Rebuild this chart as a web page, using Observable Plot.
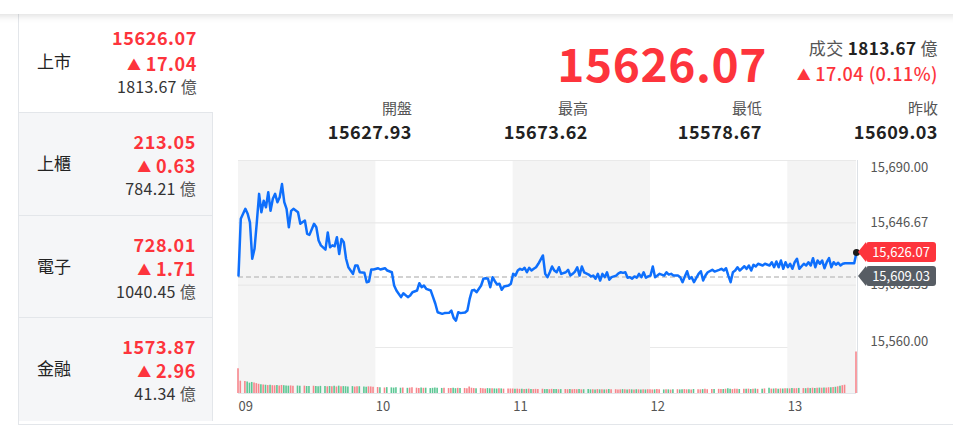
<!DOCTYPE html>
<html><head><meta charset="utf-8">
<script src="https://cdn.jsdelivr.net/npm/d3@7"></script>
<script src="https://cdn.jsdelivr.net/npm/@observablehq/plot@0.6"></script>
<style>
body{margin:0;width:953px;height:438px;overflow:hidden;background:#fff;position:relative;font-family:"Noto Sans CJK TC","Noto Sans",sans-serif;color:#222;}
#topbar{position:absolute;left:-10px;top:-30px;width:973px;height:44px;background:#fff;box-shadow:0 1px 8px rgba(0,0,0,.16);z-index:5;}
#frame{position:absolute;left:18px;top:14px;width:935px;height:411px;border-left:1px solid #e3e6ea;border-bottom:1px solid #e3e6ea;box-sizing:border-box;}
.row{position:absolute;left:19px;width:194px;box-sizing:border-box;border-bottom:1px solid #e3e6ea;}
.row.g{background:#f5f6f8;border-right:1px solid #e3e6ea;}
.lbl{position:absolute;left:18px;font-size:17px;line-height:20px;color:#222;}
.v{position:absolute;right:16px;white-space:nowrap;text-align:right;line-height:20px;}
.red{color:#fd343c;}
.b{font-weight:700;}
.tri{font-size:14px;margin-right:4px;position:relative;top:-1px;}
.hd{position:absolute;white-space:nowrap;text-align:right;line-height:24px;}
.tag{position:absolute;left:858px;width:78px;height:20px;}
.tag .arr{position:absolute;left:0;top:0;width:0;height:0;border-top:10px solid transparent;border-bottom:10px solid transparent;}
.tag .body{position:absolute;left:8px;top:0;width:70px;height:20px;border-radius:3px;color:#fff;font-size:13px;line-height:20px;text-align:center;}
</style></head>
<body>
<div id="topbar"></div>
<div id="frame"></div>
<div id="panel"></div>
<div id="header"></div>
<div id="price" style="position:absolute;left:230px;top:150px;"></div>
<div id="vol" style="position:absolute;left:230px;top:347px;"></div>
<div id="tags"></div>
<script>
// ---- left board summary ----
const boardNames = ["上市","上櫃","電子","金融"];
const boardIndex = ["15626.07","213.05","728.01","1573.87"];
const boardChange = ["17.04","0.63","1.71","2.96"];
const boardTurnover = ["1813.67","784.21","1040.45","41.34"];
// ---- header ----
const lastPrice = 15626.07;
const changeAbs = "17.04";
const changePct = "0.11%";
const turnover = "1813.67";
const statLabels = ["開盤","最高","最低","昨收"];
const statValues = ["15627.93","15673.62","15578.67","15609.03"];
const prevClose = 15609.03;
// ---- axes ----
const yTicks = [15690, 15646.67, 15603.33, 15560];
const hourTicks = ["09:00","10:00","11:00","12:00","13:00"];
const sessionStart = "09:00", sessionEnd = "13:30";
const bandStarts = ["09:00","11:00","13:00"];
const bandEnds = ["10:00","12:00","13:30"];
// ---- intraday series ----
const times = [
"09:00","09:01","09:03","09:04","09:05","09:06","09:07","09:08","09:09","09:10","09:11","09:12","09:13","09:14","09:15","09:16","09:17","09:18","09:19","09:20","09:21","09:22","09:23","09:24","09:26","09:27","09:29","09:30","09:31","09:33","09:34","09:35","09:36","09:38","09:39","09:40","09:41","09:42","09:43","09:44","09:45","09:46","09:47","09:48","09:50","09:51","09:52","09:53","09:55","09:56","09:57","09:58","09:59",
"10:01","10:02","10:04","10:05","10:07","10:08","10:09","10:11","10:12","10:14","10:15","10:16","10:18","10:19","10:20","10:21","10:22","10:24","10:25","10:26","10:27","10:29","10:30","10:32","10:33","10:34","10:35","10:36","10:37","10:39","10:40","10:41","10:42","10:43","10:44","10:46","10:47","10:48","10:49","10:50","10:51","10:52","10:53","10:54","10:55","10:56","10:58","10:59",
"11:00","11:01","11:02","11:03","11:04","11:05","11:06","11:07","11:08","11:09","11:10","11:11","11:13","11:14","11:15","11:16","11:17","11:18","11:19","11:20","11:21","11:23","11:24","11:25","11:26","11:27","11:28","11:29","11:30","11:31","11:33","11:34","11:35","11:36","11:37","11:38","11:39","11:40","11:41","11:42","11:43","11:45","11:46","11:47","11:48","11:49","11:50","11:51","11:52","11:53","11:54","11:55","11:56","11:57","11:58","11:59",
"12:00","12:01","12:02","12:03","12:04","12:06","12:07","12:08","12:09","12:10","12:12","12:13","12:14","12:15","12:16","12:17","12:18","12:19","12:21","12:22","12:23","12:24","12:25","12:27","12:28","12:30","12:31","12:32","12:33","12:34","12:35","12:36","12:37","12:38","12:39","12:41","12:42","12:43","12:44","12:45","12:46","12:47","12:49","12:50","12:52","12:53","12:54","12:55","12:56","12:57","12:58","12:59",
"13:00","13:01","13:02","13:03","13:04","13:05","13:07","13:08","13:09","13:10","13:11","13:12","13:13","13:14","13:15","13:16","13:17","13:18","13:19","13:20","13:21","13:22","13:23","13:24","13:25","13:29","13:30"];
const prices = [
15610.0,15649.5,15656.4,15653.0,15647.0,15621.7,15628.6,15647.0,15666.8,15654.0,15662.0,15657.5,15668.0,15655.0,15663.4,15666.8,15661.0,15664.5,15673.6,15661.0,15656.4,15643.6,15655.0,15656.4,15654.0,15646.0,15648.3,15639.0,15638.3,15646.0,15643.6,15634.4,15631.0,15628.0,15640.0,15629.7,15631.0,15630.4,15636.7,15625.0,15635.5,15633.2,15621.7,15615.8,15611.2,15617.0,15617.0,15612.3,15612.0,15605.4,15605.9,15614.2,15614.2,
15615.1,15614.2,15615.1,15613.5,15612.3,15603.1,15599.6,15595.0,15597.7,15595.0,15596.1,15598.4,15599.6,15604.7,15601.9,15603.1,15600.8,15599.6,15595.0,15590.4,15584.5,15583.4,15583.9,15584.1,15585.7,15580.6,15578.67,15584.5,15583.9,15584.3,15585.7,15593.8,15599.6,15600.1,15598.4,15603.1,15607.8,15608.2,15607.8,15601.9,15608.9,15606.1,15603.8,15604.3,15600.1,15602.4,15603.1,15604.3,
15611.2,15610.0,15613.5,15614.7,15614.0,15615.4,15612.3,15615.4,15613.5,15614.7,15615.8,15618.2,15624.0,15611.2,15608.9,15612.3,15616.3,15613.5,15612.3,15615.8,15611.2,15612.3,15614.0,15610.0,15611.2,15612.8,15615.8,15610.0,15616.3,15612.3,15610.7,15609.4,15610.0,15607.8,15611.2,15606.6,15611.2,15608.9,15612.3,15607.1,15608.9,15610.0,15611.6,15612.3,15611.9,15612.3,15608.5,15608.9,15607.8,15609.4,15608.5,15611.2,15608.9,15612.3,15608.5,15609.4,
15610.0,15616.3,15608.9,15610.0,15611.2,15610.0,15612.3,15610.7,15611.2,15610.0,15610.0,15608.9,15605.4,15609.4,15613.0,15607.8,15608.9,15605.4,15611.2,15613.0,15606.6,15610.0,15612.3,15614.0,15612.8,15614.0,15614.7,15613.5,15615.1,15610.0,15605.4,15612.3,15613.5,15615.8,15613.5,15616.5,15614.7,15617.0,15613.5,15617.5,15616.3,15618.2,15617.0,15618.2,15617.0,15619.3,15615.8,15619.8,15615.8,15620.5,15614.7,15619.3,
15615.8,15618.2,15614.7,15619.3,15621.7,15614.7,15618.2,15617.0,15619.3,15617.0,15622.1,15615.8,15620.5,15618.2,15620.5,15615.1,15619.3,15622.1,15615.8,15619.3,15617.5,15618.9,15617.0,15618.2,15618.6,15618.6,15626.07];
// turnover per minute, 億
const volumes = [
21.5,10.7,10.4,10.1,9.0,9.6,9.1,8.6,8.0,7.6,7.4,7.2,6.9,7.1,6.8,6.7,6.9,6.6,7.0,6.8,6.5,6.4,6.6,6.3,6.5,6.2,6.4,6.1,6.0,6.3,6.1,5.9,6.2,6.0,5.8,6.1,5.9,6.2,5.7,6.4,5.8,6.0,5.9,5.7,6.0,5.6,5.8,5.9,5.6,5.5,5.8,5.7,5.4,
5.2,5.0,4.8,5.1,4.9,4.7,5.0,4.6,4.8,4.5,4.7,4.9,4.6,4.4,4.7,4.5,4.6,4.3,4.5,4.8,4.6,4.4,4.5,4.3,4.4,4.6,4.2,4.5,4.3,4.4,4.2,5.6,4.6,4.3,4.1,4.4,4.2,4.0,4.3,4.1,4.2,4.0,3.9,4.1,4.0,3.8,4.0,3.9,
3.9,3.7,3.8,3.6,3.7,3.5,3.6,3.8,3.5,3.4,3.6,3.5,3.7,3.4,3.5,3.3,3.6,3.4,3.5,3.3,3.4,3.5,3.3,3.4,3.2,3.5,3.3,3.4,3.2,3.3,3.4,3.2,3.3,3.1,3.4,3.2,3.3,3.1,3.2,3.4,3.2,3.3,3.1,3.2,3.4,3.2,3.1,3.3,3.2,3.1,3.3,3.2,3.0,3.2,3.1,3.3,
3.3,3.1,3.2,3.4,3.2,3.1,3.3,3.2,3.0,3.2,3.3,3.1,3.2,3.4,3.2,3.3,3.1,3.5,3.3,3.2,3.4,3.6,3.3,3.4,3.5,3.6,3.4,3.5,3.7,4.2,3.6,3.4,3.8,3.6,3.5,3.7,3.6,3.8,3.5,3.7,3.9,3.6,3.8,4.0,4.6,3.8,3.9,4.1,3.8,4.0,3.9,4.2,
4.1,4.0,4.3,4.1,4.2,4.4,4.3,4.2,4.5,4.3,4.6,4.4,4.5,4.7,4.6,4.8,4.7,5.0,4.9,5.2,5.4,5.8,6.2,6.8,7.2,0,36.0];
const volMax = 40;

const RED = "#fd343c";
const FONT = '"Noto Sans CJK TC","Noto Sans",sans-serif';

// ---- build left panel ----
const rowTop = [14,113,216,318], rowH = [99,103,102,103];
const panel = document.getElementById("panel");
boardNames.forEach((name,i)=>{
  const r = document.createElement("div");
  r.className = "row" + (i>0 ? " g" : "");
  r.style.top = rowTop[i]+"px"; r.style.height = rowH[i]+"px";
  if (i===3) r.style.borderBottom = "none";
  const c = (i===0 ? 49 : rowH[i]/2 + 0.5);
  const t1 = (i===0 ? c-36 : c-34);
  r.innerHTML =
    `<div class="lbl" style="top:${c-12}px">${name}</div>`+
    `<div class="v red b" style="top:${t1}px;font-size:18px;letter-spacing:0.6px">${boardIndex[i]}</div>`+
    `<div class="v red b" style="top:${c-10}px;font-size:18px;letter-spacing:0.6px"><span class="tri">▲</span>${boardChange[i]}</div>`+
    `<div class="v" style="top:${c+13}px;font-size:16px;letter-spacing:0.3px;color:#333">${boardTurnover[i]} <span style="color:#555">億</span></div>`;
  panel.appendChild(r);
});

// ---- header ----
const header = document.getElementById("header");
let h = `<div class="hd red b" style="right:186px;top:34px;font-size:46px;line-height:56px;letter-spacing:0.6px">${d3.format(".2f")(lastPrice)}</div>`;
h += `<div class="hd" style="right:15px;top:36px;font-size:17px;letter-spacing:0.4px"><span style="color:#555">成交</span> <b style="color:#222">${turnover}</b> <span style="color:#555">億</span></div>`;
h += `<div class="hd red" style="right:15px;top:61px;font-size:18px;font-weight:500;letter-spacing:0.5px"><span class="tri">▲</span>${changeAbs} (${changePct})</div>`;
const statRight = [412,588,762,938];
statLabels.forEach((l,i)=>{
  h += `<div class="hd" style="right:${953-statRight[i]}px;top:96px;font-size:15px;color:#555">${l}</div>`;
  h += `<div class="hd b" style="right:${953-statRight[i]}px;top:119px;font-size:18px;letter-spacing:0.5px;color:#222">${statValues[i]}</div>`;
});
header.innerHTML = h;

// ---- charts ----
const parseT = s => { const [hh,mm] = s.split(":").map(Number); return new Date(Date.UTC(2023,7,15,hh,mm)); };
const data = times.map((t,i)=>({t:parseT(t), p:prices[i], v:volumes[i], up: i===0 ? true : prices[i] >= prices[i-1]}));
const xDomain = [parseT(sessionStart), parseT(sessionEnd)];
const bands = bandStarts.map((s,i)=>({x1:parseT(s), x2:parseT(bandEnds[i])}));
const yMin = yTicks[yTicks.length-1], yMax = yTicks[0];
const fmt = d3.format(",.2f");
const last = data[data.length-1];
const yAxisOpts = {anchor: "right", tickSize: 0, tickPadding: 14, textAnchor: "start", tickFormat: fmt, fill: "#555", label: null};

const pricePlot = Plot.plot({
  width: 723, height: 198, marginLeft: 8, marginRight: 97, marginTop: 10, marginBottom: 1,
  x: {type: "utc", domain: xDomain, axis: null},
  y: {domain: [yMin, yMax], axis: null},
  style: {fontFamily: FONT, fontSize: "13px", color: "#555", overflow: "visible", background: "transparent"},
  marks: [
    Plot.rect(bands, {x1: "x1", x2: "x2", y1: yMin, y2: yMax, fill: "#f4f4f4"}),
    Plot.ruleY(yTicks, {stroke: "#e9e9e9", strokeWidth: 1.2}),
    Plot.ruleY([prevClose], {stroke: "#c4c4c4", strokeWidth: 1.5, strokeDasharray: "5,3"}),
    Plot.ruleX([xDomain[1]], {stroke: "#dde1e6", dx: 1}),
    Plot.line(data, {x: "t", y: "p", stroke: "#0e6ffc", strokeWidth: 2.5, strokeLinejoin: "round"}),
    Plot.dot([last], {x: "t", y: "p", r: 3.5, fill: "#1b1b1b"}),
    Plot.axisY([yTicks[0]], {...yAxisOpts, dy: 7}),
    Plot.axisY(yTicks.slice(1,3), yAxisOpts),
    Plot.axisY([yMin], {...yAxisOpts, dy: -6})
  ]
});
document.getElementById("price").appendChild(pricePlot);

const volPlot = Plot.plot({
  width: 723, height: 73, marginLeft: 8, marginRight: 97, marginTop: 0, marginBottom: 27,
  x: {type: "utc", domain: xDomain},
  y: {domain: [0, volMax], axis: null},
  style: {fontFamily: FONT, fontSize: "13px", color: "#555", overflow: "visible", background: "transparent"},
  marks: [
    Plot.rect(bands, {x1: "x1", x2: "x2", y1: 0, y2: volMax, fill: "#f4f4f4"}),
    Plot.ruleY([0], {stroke: "#e3e6ea"}),
    Plot.ruleX([xDomain[1]], {stroke: "#dde1e6", dx: 1}),
    Plot.ruleX(data.filter(d => d.v > 0), {x: "t", y1: 0, y2: "v", stroke: d => d.up ? "#f7868c" : "#5cc794", strokeWidth: 1.6, dx: -0.5}),
    Plot.axisX(hourTicks.map(parseT), {tickSize: 0, tickPadding: 8, textAnchor: "start", tickFormat: d3.utcFormat("%H"), fill: "#555", label: null})
  ]
});
document.getElementById("vol").appendChild(volPlot);

// ---- price tags at right edge, positioned with the plot's y scale ----
const ys = pricePlot.scale("y");
const tags = document.getElementById("tags");
[[lastPrice, RED], [prevClose, "#575d64"]].forEach(([val, col])=>{
  const cy = 150 + ys.apply(val);
  const t = document.createElement("div");
  t.className = "tag";
  t.style.top = (cy - 10) + "px";
  t.innerHTML = `<div class="arr" style="border-right:8px solid ${col}"></div><div class="body" style="background:${col}">${fmt(val)}</div>`;
  tags.appendChild(t);
});
</script>
</body></html>
